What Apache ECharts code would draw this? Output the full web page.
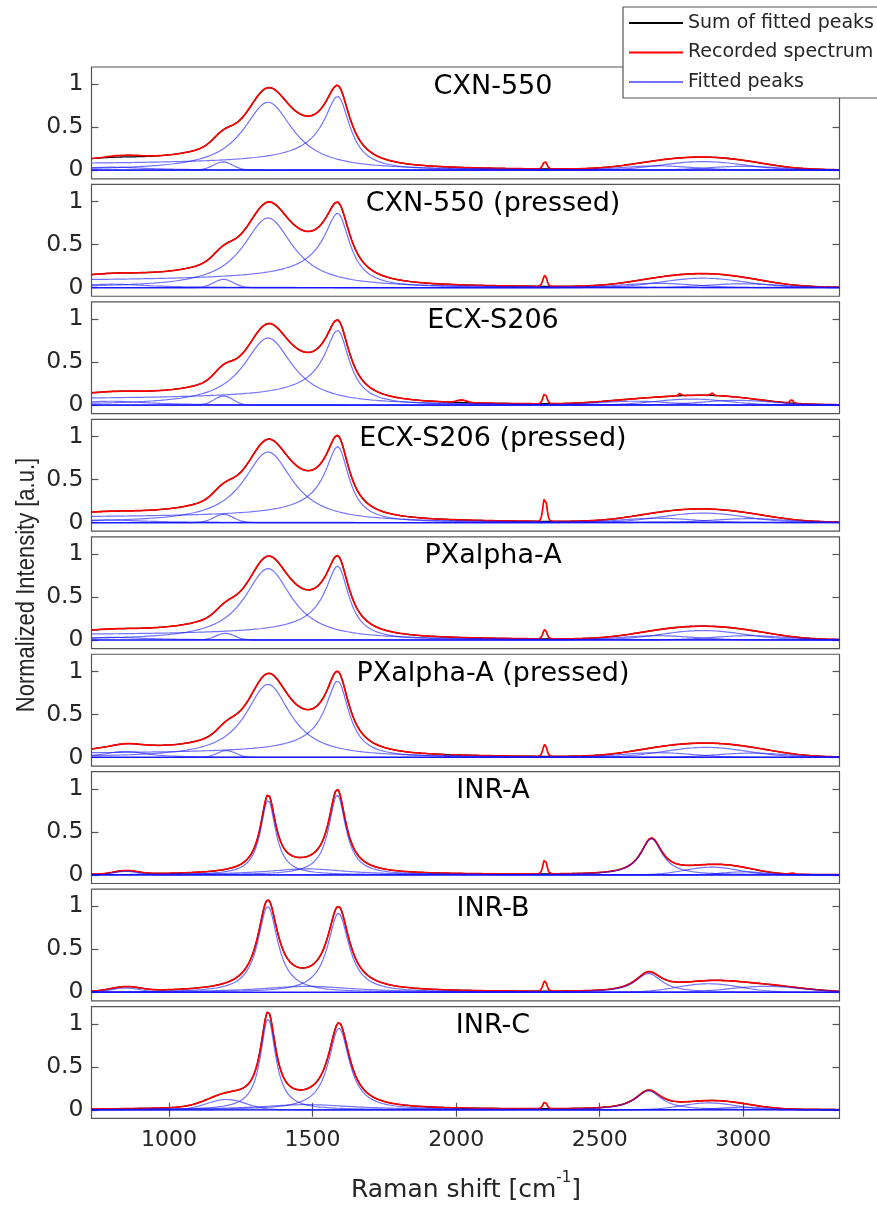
<!DOCTYPE html>
<html>
<head>
<meta charset="utf-8">
<script src="https://cdn.jsdelivr.net/npm/echarts@6/dist/echarts.min.js"></script>
<style>
html,body{margin:0;padding:0;background:#ffffff;}
#chart{width:877px;height:1211px;}
</style>
</head>
<body>
<div id="chart"></div>
<script>
// ---------------- DATA ----------------
const panelTitles = ['CXN-550', 'CXN-550 (pressed)', 'ECX-S206', 'ECX-S206 (pressed)',
  'PXalpha-A', 'PXalpha-A (pressed)', 'INR-A', 'INR-B', 'INR-C'];
const seriesNames = ['Sum of fitted peaks', 'Recorded spectrum', 'Fitted peaks'];
const xRange = [730, 3335];          // Raman shift range [cm-1]
const yRange = [-0.1, 1.2];          // normalized intensity range
const xTickValues = [1000, 1500, 2000, 2500, 3000];
const yTickValues = [0, 0.5, 1];
const yTickLabels = ['0', '0.5', '1'];

// fitted peaks: [shape, position cm-1, height, half width cm-1, BWF q]
// shape: L = Lorentzian, G = Gaussian, B = Breit-Wigner-Fano (low-frequency tail)
const peaksCXN550 = [['L', 800, 0.035, 150], ['G', 1188, 0.096, 40], ['L', 1345, 0.79, 106],
  ['B', 1587, 0.86, 52, -3.8], ['G', 2700, 0.05, 150], ['G', 2860, 0.10, 170], ['G', 3000, 0.045, 150]];
const peaksCXN550p = [['L', 800, 0.04, 150], ['G', 1190, 0.096, 40], ['L', 1345, 0.81, 106],
  ['B', 1587, 0.865, 52, -3.5], ['G', 2700, 0.05, 150], ['G', 2860, 0.11, 170], ['G', 3000, 0.045, 150]];
const peaksECX = [['L', 800, 0.045, 150], ['G', 1190, 0.106, 38], ['L', 1345, 0.78, 104],
  ['B', 1587, 0.87, 50, -3.8], ['G', 2620, 0.045, 150], ['G', 2820, 0.07, 150], ['G', 2980, 0.055, 150]];
const peaksECXp = [['L', 780, 0.03, 150], ['G', 1190, 0.096, 40], ['L', 1345, 0.82, 104],
  ['B', 1587, 0.885, 48, -4.2], ['G', 2700, 0.05, 150], ['G', 2860, 0.11, 170], ['G', 3020, 0.045, 150]];
const peaksPXA = [['L', 800, 0.03, 150], ['G', 1196, 0.078, 38], ['L', 1345, 0.83, 100],
  ['B', 1587, 0.86, 48, -4.2], ['G', 2700, 0.05, 150], ['G', 2860, 0.11, 170], ['G', 3020, 0.05, 150]];
const peaksPXAp = [['L', 850, 0.07, 90], ['G', 1200, 0.08, 38], ['L', 1345, 0.85, 95],
  ['B', 1587, 0.89, 48, -5.0], ['G', 2700, 0.055, 150], ['G', 2870, 0.117, 170], ['G', 3030, 0.05, 150]];
const peaksINRA = [['G', 850, 0.04, 50], ['L', 1480, 0.07, 170], ['L', 1345, 0.87, 32],
  ['L', 1586, 0.93, 36], ['L', 2680, 0.42, 45], ['G', 2890, 0.09, 110], ['G', 3000, 0.035, 90]];
const peaksINRB = [['G', 850, 0.05, 60], ['L', 1480, 0.07, 200], ['L', 1344, 1.0, 42],
  ['L', 1590, 0.92, 45], ['L', 2670, 0.22, 55], ['G', 2880, 0.10, 130], ['G', 3080, 0.07, 150]];
const peaksINRC = [['G', 1200, 0.12, 80], ['L', 1480, 0.06, 200], ['L', 1345, 1.06, 32],
  ['L', 1592, 0.95, 44], ['L', 2670, 0.22, 55], ['G', 2880, 0.08, 110], ['G', 3000, 0.03, 100]];

// features of the recorded spectrum that are not part of the fit (spikes, dips)
const extrasCXN550 = [['G', 2309, 0.09, 8], ['G', 850, 0.02, 60]];
const extrasCXN550p = [['G', 2309, 0.13, 8]];
const extrasECX = [['G', 2309, 0.12, 8], ['G', 2019, 0.03, 20], ['G', 2780, 0.03, 5],
  ['G', 2890, 0.03, 5], ['G', 3168, 0.05, 5]];
const extrasECXp = [['G', 2309, 0.28, 8]];
const extrasPXA = [['G', 2309, 0.11, 8]];
const extrasPXAp = [['G', 2309, 0.14, 8], ['G', 1970, -0.035, 5]];
const extrasINRA = [['G', 2309, 0.17, 8], ['G', 3170, 0.02, 5]];
const extrasINRB = [['G', 2309, 0.12, 8]];
const extrasINRC = [['G', 2309, 0.08, 8]];

const panelPeaks = [peaksCXN550, peaksCXN550p, peaksECX, peaksECXp, peaksPXA, peaksPXAp, peaksINRA, peaksINRB, peaksINRC];
const panelExtras = [extrasCXN550, extrasCXN550p, extrasECX, extrasECXp, extrasPXA, extrasPXAp, extrasINRA, extrasINRB, extrasINRC];

// ---------------- LAYOUT / STYLE ----------------
const GRID_LEFT = 91.5, GRID_W = 748, GRID_TOP0 = 67, GRID_PITCH = 117.45, GRID_H = 111.8;
const FRAME = '#555555', TXT = '#262626';
const FONT = '"DejaVu Sans"';
const BLUE = 'rgba(20,20,255,0.6)';
const X_STEP = 2;

function peakValue(p, x) {
  const s = p[0], c = p[1], h = p[2], w = p[3], q = p[4];
  if (s === 'G') { const d = x - c; return h * Math.exp(-Math.LN2 * (d / w) * (d / w)); }
  if (s === 'B' && x < c) {
    // BWF whose maximum sits at c with value h
    const w0 = c - w / q, u = (x - w0) / w, t = 1 + u / q;
    return h / (1 + 1 / (q * q)) * t * t / (1 + u * u);
  }
  const d = x - c;
  return h / (1 + (d / w) * (d / w));
}

const xs = [];
for (let x = xRange[0]; x <= xRange[1]; x += X_STEP) xs.push(x);

const grids = [], xAxes = [], yAxes = [], series = [], graphics = [];
panelTitles.forEach((title, i) => {
  const top = GRID_TOP0 + i * GRID_PITCH;
  const last = i === panelTitles.length - 1;
  grids.push({left: GRID_LEFT, top: top, width: GRID_W, height: GRID_H, show: true,
    borderColor: FRAME, borderWidth: 1.2, backgroundColor: 'transparent'});
  const xBase = {gridIndex: i, type: 'value', min: xRange[0], max: xRange[1],
    axisLine: {show: false}, splitLine: {show: false}};
  xAxes.push(Object.assign({}, xBase, {position: 'bottom',
    axisTick: {show: last, inside: true, length: 7, customValues: xTickValues, lineStyle: {color: FRAME, width: 1.2}},
    axisLabel: {show: last, customValues: xTickValues, margin: 11, formatter: v => String(v),
      fontFamily: FONT, fontSize: 22, color: TXT}}));
  xAxes.push(Object.assign({}, xBase, {position: 'top',
    axisTick: {show: last, inside: true, length: 7, customValues: xTickValues, lineStyle: {color: FRAME, width: 1.2}},
    axisLabel: {show: false}}));
  const yBase = {gridIndex: i, type: 'value', min: yRange[0], max: yRange[1],
    axisLine: {show: false}, splitLine: {show: false}};
  yAxes.push(Object.assign({}, yBase, {position: 'left',
    axisTick: {show: true, inside: true, length: 7, customValues: yTickValues, lineStyle: {color: FRAME, width: 1.2}},
    axisLabel: {show: true, customValues: yTickValues, margin: 8,
      formatter: v => { const k = yTickValues.indexOf(v); return k >= 0 ? yTickLabels[k] : String(v); },
      fontFamily: FONT, fontSize: 23.5, color: TXT}}));
  yAxes.push(Object.assign({}, yBase, {position: 'right',
    axisTick: {show: true, inside: true, length: 7, customValues: yTickValues, lineStyle: {color: FRAME, width: 1.2}},
    axisLabel: {show: false}}));

  const peaks = panelPeaks[i], extras = panelExtras[i];
  const sum = xs.map(x => peaks.reduce((a, p) => a + peakValue(p, x), 0));
  const rec = xs.map((x, k) => sum[k] + extras.reduce((a, p) => a + peakValue(p, x), 0));
  const common = {type: 'line', xAxisIndex: 2 * i, yAxisIndex: 2 * i, showSymbol: false, symbol: 'none',
    animation: false, silent: true, clip: true};
  series.push(Object.assign({}, common, {name: seriesNames[0], z: 2,
    lineStyle: {color: '#000000', width: 1.3}, itemStyle: {color: '#000000'},
    data: xs.map((x, k) => [x, sum[k]])}));
  series.push(Object.assign({}, common, {name: seriesNames[1], z: 3,
    lineStyle: {color: '#ff0000', width: 1.7}, itemStyle: {color: '#ff0000'},
    data: xs.map((x, k) => [x, rec[k]])}));
  peaks.forEach(p => {
    series.push(Object.assign({}, common, {name: seriesNames[2], z: 4,
      lineStyle: {color: BLUE, width: 1.2}, itemStyle: {color: BLUE},
      data: xs.map(x => [x, peakValue(p, x)])}));
  });
  graphics.push({type: 'text', x: 493, y: top + 19.5, z: 5,
    style: {text: title, font: '27px ' + FONT, fill: '#000000', textAlign: 'center', textVerticalAlign: 'middle'}});
});

// axis names
graphics.push({type: 'text', x: 27, y: 585, rotation: Math.PI / 2, scaleY: 1.2,
  style: {text: 'Normalized Intensity [a.u.]', font: '22px "Liberation Sans"', fill: TXT,
    textAlign: 'center', textVerticalAlign: 'middle'}});
(function () {
  const ctx = document.createElement('canvas').getContext('2d');
  const fMain = '25px ' + FONT, fSup = '15px ' + FONT;
  const parts = ['Raman shift [cm', '-1', ']'];
  ctx.font = fMain; const w0 = ctx.measureText(parts[0]).width, w2 = ctx.measureText(parts[2]).width;
  ctx.font = fSup; const w1 = ctx.measureText(parts[1]).width;
  const total = w0 + w1 + w2;
  const x = 466 - total / 2;
  const y = 1190;
  graphics.push({type: 'text', x: x, y: y, style: {text: parts[0], font: fMain, fill: TXT, textAlign: 'left', textVerticalAlign: 'middle'}});
  graphics.push({type: 'text', x: x + w0, y: y - 12, style: {text: parts[1], font: fSup, fill: TXT, textAlign: 'left', textVerticalAlign: 'middle'}});
  graphics.push({type: 'text', x: x + w0 + w1, y: y, style: {text: parts[2], font: fMain, fill: TXT, textAlign: 'left', textVerticalAlign: 'middle'}});
})();

const chart = echarts.init(document.getElementById('chart'), null, {renderer: 'canvas'});
chart.setOption({
  animation: false,
  backgroundColor: '#ffffff',
  grid: grids,
  xAxis: xAxes,
  yAxis: yAxes,
  legend: {
    data: seriesNames, orient: 'vertical', left: 623, top: 7, padding: [6, 6, 6, 5],
    itemWidth: 54, itemHeight: 20, itemGap: 9.5, itemStyle: {opacity: 0},
    backgroundColor: '#ffffff', borderColor: FRAME, borderWidth: 1.2, selectedMode: false, z: 20,
    textStyle: {fontFamily: FONT, fontSize: 19, color: TXT, lineHeight: 20}
  },
  graphic: graphics,
  series: series
});
</script>
</body>
</html>
